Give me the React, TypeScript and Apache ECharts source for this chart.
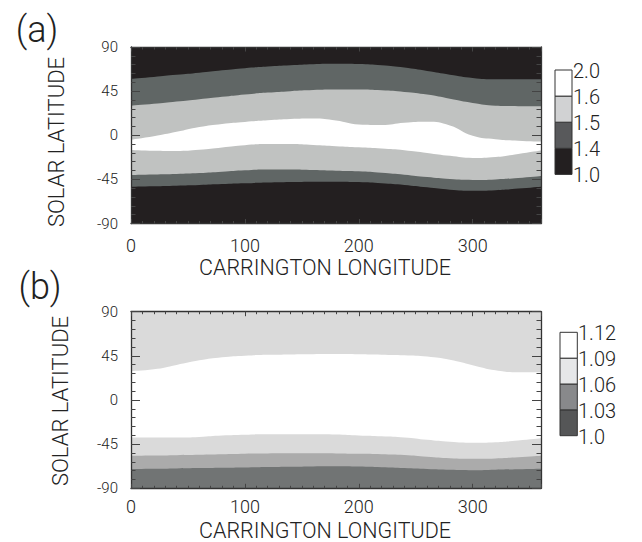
import React, { useEffect, useRef } from "react";
import * as echarts from "echarts";

// Carrington longitude sample points (deg)
const LONGITUDE = [0, 20, 40, 60, 80, 100, 120, 140, 160, 180, 200, 220, 240, 260, 280, 300, 320, 340, 360];

// Panel (a) contour boundaries (solar latitude, deg), top to bottom
const A_BLACK_DARK_N = [57.5, 59.5, 61.6, 63.8, 66.2, 68.4, 70.1, 71.4, 72.4, 72.8, 72.6, 71.3, 69, 65.5, 61.8, 58.5, 57.1, 57, 57];
const A_DARK_LIGHT_N = [30, 32, 34.3, 36.8, 39.2, 41.6, 43.5, 45, 46.1, 46.6, 46.6, 45.8, 44.2, 41.5, 37.3, 33, 30.2, 29.7, 29.5];
const A_LIGHT_WHITE_N = [-4.5, -1, 3.5, 8.5, 11.6, 13.6, 15.2, 16.5, 17, 15, 11, 10.5, 12.8, 13.8, 10, -0.5, -4, -5.5, -6.5];
const A_WHITE_LIGHT_S = [-15, -15.8, -16, -14.8, -12.4, -10.2, -9, -9, -10, -11.2, -12.3, -13.5, -15.2, -18, -21, -23.2, -22.2, -19, -15.5];
const A_LIGHT_DARK_S = [-40.5, -40, -39.5, -38.6, -37.2, -35.8, -35, -35, -35.5, -36.2, -36.8, -38.3, -40.3, -42.7, -44.7, -45.6, -45, -43.5, -41.5];
const A_DARK_BLACK_S = [-52.5, -52, -51.4, -50.7, -49.8, -49, -48.3, -47.8, -47.4, -47.3, -47.8, -49, -50.7, -53.1, -55.5, -56.6, -56, -54.4, -52.5];

// Panel (b) contour boundaries, top to bottom
const B_LIGHT_WHITE_N = [29.5, 31.3, 35.8, 40.5, 43.6, 45.2, 46, 46.5, 46.7, 46.8, 46.6, 46.2, 45.6, 44.3, 41, 35.5, 30.3, 28.3, 28.3];
const B_WHITE_LIGHT_S = [-38.4, -38.3, -38.2, -37.6, -36.2, -35.4, -35, -35, -35, -35.2, -36.2, -37, -38.2, -40.6, -42.6, -43.6, -43, -41.2, -39];
const B_LIGHT_MID_S = [-56.8, -56.5, -56.2, -55.8, -55.3, -54.8, -54.5, -54.4, -54.4, -54.5, -54.9, -55.2, -56, -57.8, -59.3, -60, -59.5, -58.3, -56.8];
const B_MID_DARK_S = [-70.4, -70.1, -69.8, -69.4, -69, -68.7, -68.3, -68, -67.7, -67.6, -67.9, -68.5, -69.3, -70.3, -71.1, -71.5, -71, -70.5, -70];

// Colour bar levels (bottom to top)
const A_LEVELS = ["1.0", "1.4", "1.5", "1.6", "2.0"];
const B_LEVELS = ["1.0", "1.03", "1.06", "1.09", "1.12"];

const X_TICKS_MAJOR = 100;
const X_TICKS_MINOR = 10;
const Y_TICKS_MAJOR = 45;

const FONT = "Roboto";
const TXT = "#222";
const TICK = "#444";
const FRAME = "#333";

const A_COLORS = { black: "#231f20", dark: "#606665", light: "#c0c2c1", white: "#ffffff" };
const B_COLORS = { light: "#dadada", mid: "#ababab", dark: "#717474", white: "#ffffff" };
const A_BAR = ["#231f20", "#58595b", "#d1d2d3", "#ffffff"];
const B_BAR = ["#555657", "#88898b", "#e6e7e8", "#ffffff"];

function xAxesFor(g: number, labelMargin: number): any[] {
  const mk = (position: string, interval: number, withLine: boolean, withLabel: boolean, len: number) => ({
    gridIndex: g, type: "value", min: 0, max: 360, position, interval, z: 10,
    splitLine: { show: false },
    axisLine: { show: withLine, onZero: false, lineStyle: { color: FRAME, width: 1.3 } },
    axisTick: { show: true, inside: true, length: len, lineStyle: { color: TICK, width: 1 } },
    axisLabel: withLabel
      ? { show: true, margin: labelMargin, fontSize: 18, fontFamily: FONT, fontWeight: 300, color: TXT,
          formatter: (v: number) => (v === 360 ? "" : String(v)) }
      : { show: false },
  });
  return [
    mk("bottom", X_TICKS_MAJOR, true, true, 4.5),
    mk("bottom", X_TICKS_MINOR, false, false, 2.5),
    mk("top", X_TICKS_MAJOR, true, false, 4.5),
    mk("top", X_TICKS_MINOR, false, false, 2.5),
  ];
}

function yAxesFor(g: number): any[] {
  const mk = (position: string, withLabel: boolean) => ({
    gridIndex: g, type: "value", min: -90, max: 90, interval: Y_TICKS_MAJOR, position, z: 10,
    splitLine: { show: false },
    axisLine: { show: true, onZero: false, lineStyle: { color: FRAME, width: 1.3 } },
    axisTick: { show: true, inside: true, length: 9, lineStyle: { color: TICK, width: 1 } },
    minorTick: { show: true, splitNumber: 5, length: 4.5, lineStyle: { color: TICK, width: 1 } },
    axisLabel: withLabel
      ? { show: true, margin: 13, fontSize: 15, fontFamily: FONT, fontWeight: 300, color: TXT }
      : { show: false },
  });
  return [mk("left", true), mk("right", false)];
}

function band(lat: number[], color: string, xi: number, yi: number) {
  return {
    type: "line", xAxisIndex: xi, yAxisIndex: yi, silent: true,
    data: LONGITUDE.map((x, i) => [x, lat[i]]),
    smooth: 0.5, symbol: "none", showSymbol: false,
    lineStyle: { width: 0, opacity: 0 },
    areaStyle: { color, opacity: 1, origin: "start" },
  };
}

function colorBar(x: number, top: number, w: number, segH: number, colors: string[], levels: string[], labelX: number) {
  const els: any[] = [];
  const n = colors.length;
  for (let i = 0; i < n; i++) {
    const y = top + (n - 1 - i) * segH;
    els.push({ type: "rect", shape: { x, y, width: w, height: segH },
      style: { fill: colors[i], stroke: "#333", lineWidth: 1 }, z: 20 });
  }
  levels.forEach((t, i) => {
    els.push({ type: "text", x: labelX, y: top + (n - i) * segH + 1, z: 20,
      style: { text: t, fontSize: 20, fontFamily: FONT, fontWeight: 300, fill: TXT, align: "left", verticalAlign: "middle" } });
  });
  return els;
}

function textEl(text: string, x: number, y: number, size: number, rotation = 0) {
  return { type: "text", x, y, rotation, z: 20,
    style: { text, fontSize: size, fontFamily: FONT, fontWeight: 300, fill: TXT, align: "center", verticalAlign: "middle" } };
}

export default function App() {
  const ref = useRef<HTMLDivElement>(null);
  useEffect(() => {
    if (!ref.current) return;
    const chart = echarts.init(ref.current, undefined, { renderer: "svg" });
    const option: any = {
      animation: false,
      backgroundColor: "#ffffff",
      grid: [
        { left: 131, top: 47, width: 410, height: 176.5, show: true, backgroundColor: A_COLORS.black, borderWidth: 0 },
        { left: 131, top: 311.7, width: 410, height: 176.6, show: true, backgroundColor: B_COLORS.light, borderWidth: 0 },
      ],
      xAxis: [...xAxesFor(0, 13), ...xAxesFor(1, 9)],
      yAxis: [...yAxesFor(0), ...yAxesFor(1)],
      series: [
        band(A_BLACK_DARK_N, A_COLORS.dark, 0, 0),
        band(A_DARK_LIGHT_N, A_COLORS.light, 0, 0),
        band(A_LIGHT_WHITE_N, A_COLORS.white, 0, 0),
        band(A_WHITE_LIGHT_S, A_COLORS.light, 0, 0),
        band(A_LIGHT_DARK_S, A_COLORS.dark, 0, 0),
        band(A_DARK_BLACK_S, A_COLORS.black, 0, 0),
        band(B_LIGHT_WHITE_N, B_COLORS.white, 4, 2),
        band(B_WHITE_LIGHT_S, B_COLORS.light, 4, 2),
        band(B_LIGHT_MID_S, B_COLORS.mid, 4, 2),
        band(B_MID_DARK_S, B_COLORS.dark, 4, 2),
      ],
      graphic: [
        textEl("(a)", 37, 30, 36),
        textEl("(b)", 40, 287, 36),
        textEl("SOLAR LATITUDE", 56, 142, 22, Math.PI / 2),
        textEl("SOLAR LATITUDE", 60, 401, 22, Math.PI / 2),
        textEl("CARRINGTON LONGITUDE", 325, 267.5, 21.5),
        textEl("CARRINGTON LONGITUDE", 325, 530.5, 21.5),
        ...colorBar(555, 70, 17, 26.1, A_BAR, A_LEVELS, 573),
        ...colorBar(560, 332.3, 17.3, 25.85, B_BAR, B_LEVELS, 578),
      ],
    };
    chart.setOption(option);
    return () => chart.dispose();
  }, []);
  return <div ref={ref} style={{ position: "fixed", left: 0, top: 0, width: 642, height: 542 }} />;
}
